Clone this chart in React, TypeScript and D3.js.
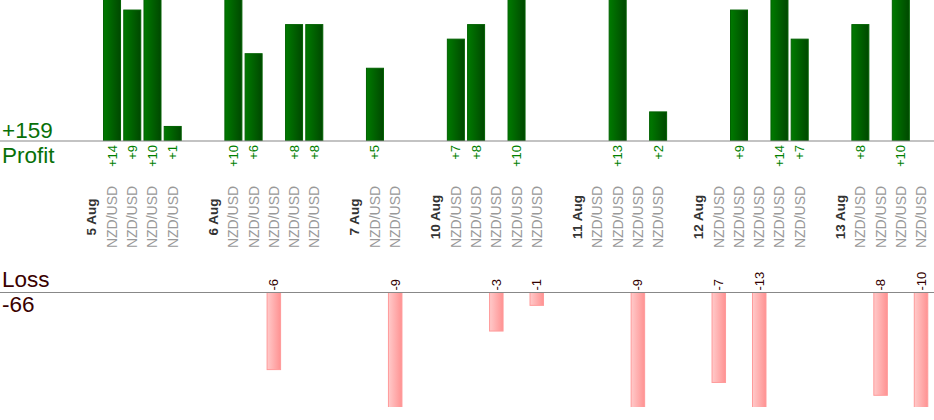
import React from 'react';
import * as d3 from 'd3';

const dayLabels = ['5 Aug', '6 Aug', '7 Aug', '10 Aug', '11 Aug', '12 Aug', '13 Aug'];
const dayTrades: number[][] = [
  [14, 9, 10, 1],
  [10, 6, -6, 8, 8],
  [5, -9],
  [7, 8, -3, 10, -1],
  [0, 13, -9, 2],
  [-7, 9, -13, 14, 7],
  [8, -8, 10, -10],
];
const pairName = 'NZD/USD';

type Slot = { kind: 'date' | 'trade' | 'gap'; label: string; value: number };

function buildSlots(): Slot[] {
  const out: Slot[] = [];
  dayLabels.forEach((d, i) => {
    out.push({ kind: 'date', label: d, value: 0 });
    dayTrades[i].forEach((v) => out.push({ kind: 'trade', label: pairName, value: v }));
    if (i < dayLabels.length - 1) out.push({ kind: 'gap', label: '', value: 0 });
  });
  return out;
}

const W = 934;
const H = 420;
const FONT = '"Liberation Sans", Arial, sans-serif';

export default function App() {
  const slots = buildSlots();
  const totalProfit = d3.sum(slots, (s) => (s.value > 0 ? s.value : 0));
  const totalLoss = d3.sum(slots, (s) => (s.value < 0 ? -s.value : 0));

  const x = d3
    .scaleBand<number>()
    .domain(slots.map((_, i) => i))
    .range([81.7, 81.7 + slots.length * 20.225])
    .padding(0);
  const bw = x.bandwidth();

  const profitBase = 141;
  const yP = d3.scaleLinear().domain([0, 1]).range([profitBase, profitBase - 14.55]);
  const lossBase = 292.5;
  const yL = d3.scaleLinear().domain([0, 1]).range([lossBase, lossBase + 12.85]);

  const pW = 17;
  const lW = 13.5;

  return (
    <svg
      width={W}
      height={H}
      style={{ position: 'absolute', left: 0, top: 0, background: '#fff' }}
      fontFamily={FONT}
    >
      <defs>
        <linearGradient id="gGreen" x1="0" x2="1" y1="0" y2="0">
          <stop offset="0" stopColor="#007a00" />
          <stop offset="1" stopColor="#004800" />
        </linearGradient>
        <linearGradient id="gPink" x1="0" x2="1" y1="0" y2="0">
          <stop offset="0" stopColor="#ffcaca" />
          <stop offset="1" stopColor="#ff9292" />
        </linearGradient>
        <clipPath id="clipP">
          <rect x={0} y={0} width={W} height={profitBase} />
        </clipPath>
        <clipPath id="clipL">
          <rect x={0} y={lossBase} width={W} height={407 - lossBase} />
        </clipPath>
      </defs>

      {/* profit bars */}
      <g clipPath="url(#clipP)">
        {slots.map((s, i) =>
          s.kind === 'trade' && s.value > 0 ? (
            <rect
              key={'p' + i}
              x={(x(i) as number) + (bw - pW) / 2}
              y={yP(s.value)}
              width={pW}
              height={profitBase - yP(s.value) + 1}
              fill="url(#gGreen)"
              stroke="#006000"
              strokeWidth={1}
            />
          ) : null
        )}
      </g>

      {/* loss bars */}
      <g clipPath="url(#clipL)">
        {slots.map((s, i) =>
          s.kind === 'trade' && s.value < 0 ? (
            <rect
              key={'l' + i}
              x={(x(i) as number) + (bw - lW) / 2}
              y={lossBase}
              width={lW}
              height={yL(-s.value) - lossBase}
              fill="url(#gPink)"
              stroke="#ff9a9a"
              strokeWidth={1}
            />
          ) : null
        )}
      </g>

      {/* baselines */}
      <line x1={0} x2={W} y1={profitBase} y2={profitBase} stroke="#888" strokeWidth={1.2} />
      <line x1={0} x2={W} y1={lossBase} y2={lossBase} stroke="#888" strokeWidth={1.2} />

      {/* value labels */}
      {slots.map((s, i) => {
        if (s.kind !== 'trade' || s.value === 0) return null;
        const cx = (x(i) as number) + bw / 2;
        if (s.value > 0) {
          return (
            <text
              key={'vp' + i}
              transform={`translate(${cx},${profitBase + 4}) rotate(-90)`}
              textAnchor="end"
              dominantBaseline="central"
              fontSize={13}
              fill="#008000"
            >
              {'+' + s.value}
            </text>
          );
        }
        return (
          <text
            key={'vl' + i}
            transform={`translate(${cx},${lossBase - 2}) rotate(-90)`}
            textAnchor="start"
            dominantBaseline="central"
            fontSize={13}
            fill="#330000"
          >
            {String(s.value)}
          </text>
        );
      })}

      {/* category labels */}
      {slots.map((s, i) => {
        if (s.kind === 'gap') return null;
        const cx = (x(i) as number) + bw / 2;
        return (
          <text
            key={'c' + i}
            transform={`translate(${cx},217) rotate(-90)`}
            textAnchor="middle"
            dominantBaseline="central"
            fontSize={s.kind === 'date' ? 13.5 : 14}
            fontWeight={s.kind === 'date' ? 'bold' : 'normal'}
            fill={s.kind === 'date' ? '#333' : '#999'}
          >
            {s.label}
          </text>
        );
      })}

      {/* totals */}
      <text x={2} y={138} fontSize={22.5} fill="#087008">{'+' + totalProfit}</text>
      <text x={2} y={163} fontSize={22.5} fill="#087008">Profit</text>
      <text x={2} y={287} fontSize={22.5} fill="#3a0000">Loss</text>
      <text x={2} y={312} fontSize={22.5} fill="#3a0000">{'-' + totalLoss}</text>
    </svg>
  );
}
